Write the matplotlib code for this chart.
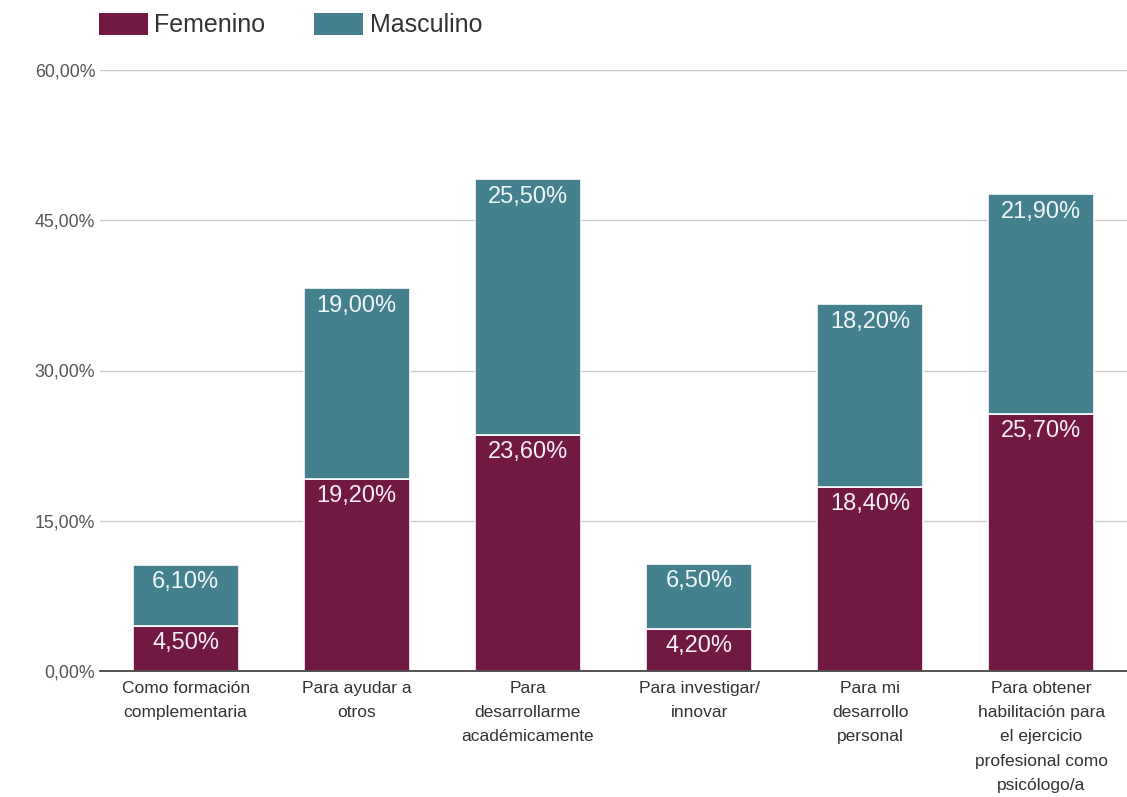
import matplotlib
matplotlib.use("Agg")
import matplotlib.pyplot as plt
from matplotlib.patches import Patch

plt.rcParams['font.family'] = ['Liberation Sans', 'DejaVu Sans']

categories = [
    "Como formación\ncomplementaria",
    "Para ayudar a\notros",
    "Para\ndesarrollarme\nacadémicamente",
    "Para investigar/\ninnovar",
    "Para mi\ndesarrollo\npersonal",
    "Para obtener\nhabilitación para\nel ejercicio\nprofesional como\npsicólogo/a",
]
femenino = [4.5, 19.2, 23.6, 4.2, 18.4, 25.7]
masculino = [6.1, 19.0, 25.5, 6.5, 18.2, 21.9]
yticks = [0, 15, 30, 45, 60]

c_fem = "#721943"
c_mas = "#45808f"

fig = plt.figure(figsize=(11.27, 7.97), dpi=100)
ax = fig.add_axes([100/1127, 1-671/797, 1027/1127, 601/797])

x = list(range(len(categories)))
w = 0.62
ax.bar(x, femenino, width=w, color=c_fem, edgecolor="white", linewidth=1.2, zorder=3)
ax.bar(x, masculino, width=w, bottom=femenino, color=c_mas, edgecolor="white", linewidth=1.2, zorder=3)

def fmt(v):
    return f"{v:.2f}".replace(".", ",") + "%"

for i in x:
    ax.annotate(fmt(femenino[i]), (i, femenino[i]), xytext=(0, -12.5), textcoords="offset points",
                ha="center", va="center", color="#f4eef2", fontsize=17, zorder=4)
    top = femenino[i] + masculino[i]
    ax.annotate(fmt(masculino[i]), (i, top), xytext=(0, -12.5), textcoords="offset points",
                ha="center", va="center", color="#eef6f8", fontsize=17, zorder=4)

ax.set_xlim(-0.5, len(categories) - 0.5)
ax.set_ylim(0, 60)
ax.set_yticks(yticks)
ax.set_yticklabels([fmt(v) for v in yticks], fontsize=12.8, color="#555555")
ax.grid(axis="y", color="#cccccc", linewidth=1, zorder=0)
ax.set_axisbelow(True)
for s in ["top", "right", "left"]:
    ax.spines[s].set_visible(False)
ax.spines["bottom"].set_color("#333333")
ax.spines["bottom"].set_linewidth(1.2)
ax.spines["bottom"].set_zorder(5)
ax.tick_params(axis="y", length=0, pad=3.5)
ax.tick_params(axis="x", length=0, pad=7)
ax.set_xticks(x)
ax.set_xticklabels(categories, fontsize=12.5, color="#333333", linespacing=1.78)

handles = [Patch(facecolor=c_fem, label="Femenino"), Patch(facecolor=c_mas, label="Masculino")]
fig.legend(handles=handles, loc="center left", bbox_to_anchor=(99/1127, 1-25/797), ncol=2,
           frameon=False, fontsize=18, handlelength=1.96, handleheight=0.96,
           columnspacing=1.95, handletextpad=0.26, borderpad=0, borderaxespad=0,
           labelcolor="#333333")

fig.savefig("out.png", dpi=100, facecolor="white")
